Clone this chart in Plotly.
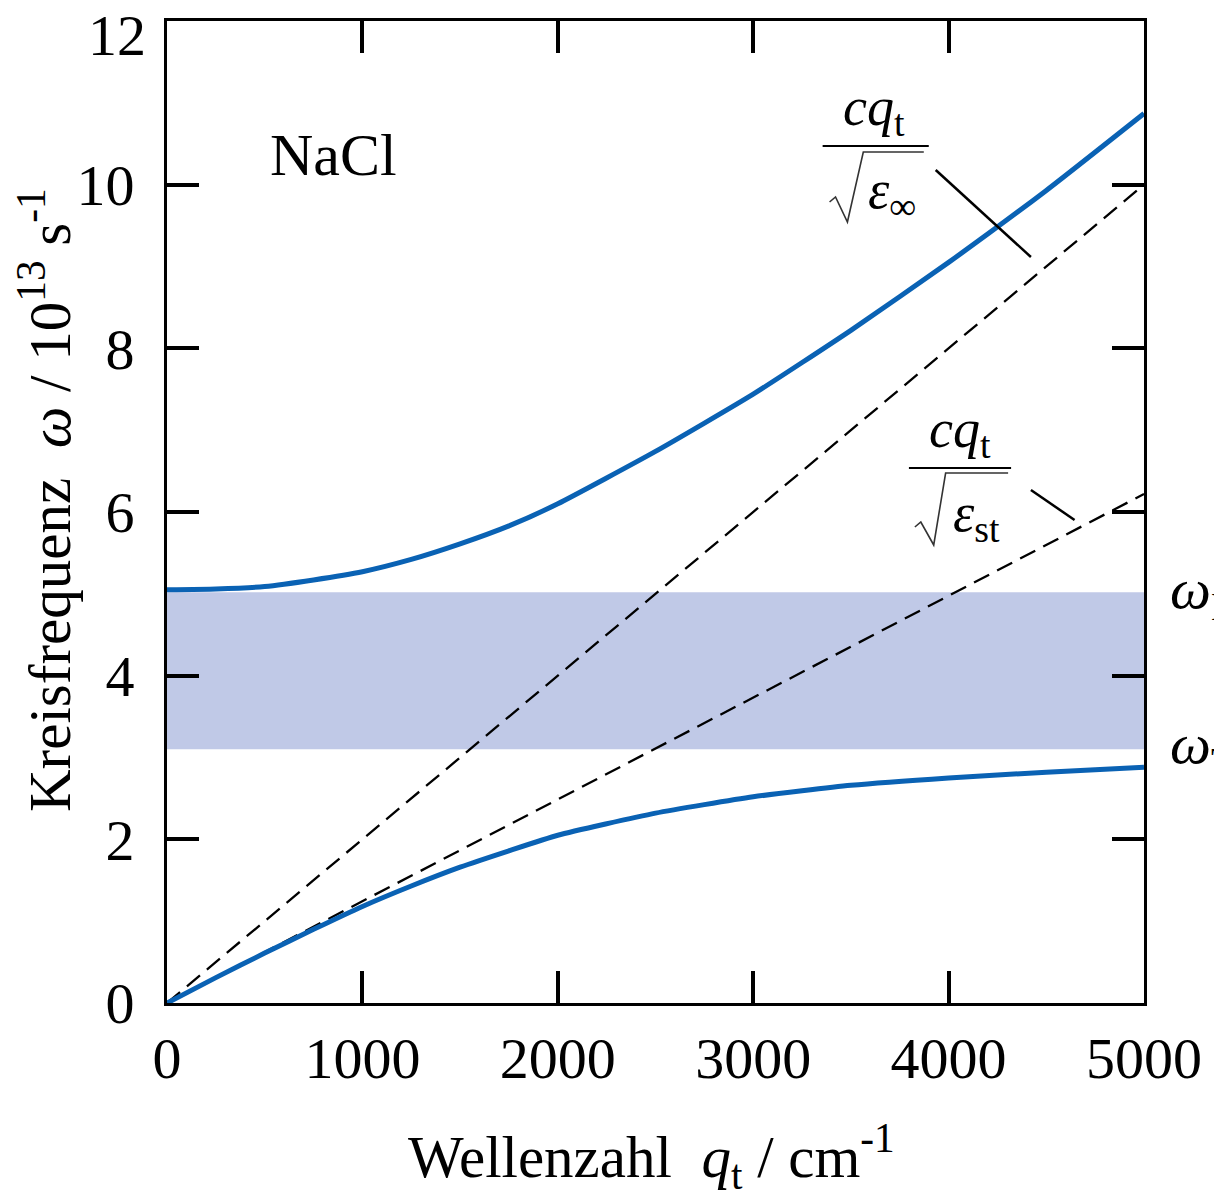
import plotly.graph_objects as go

# ---------------- data ----------------
q_vals = [0, 250, 500, 750, 1000, 1250, 1500, 1750, 2000, 2500, 3000, 3500, 4000, 4500, 5000]
omega_upper = [5.05, 5.06, 5.09, 5.17, 5.27, 5.42, 5.61, 5.83, 6.10, 6.74, 7.44, 8.22, 9.05, 9.93, 10.87]
omega_lower = [0.0, 0.31, 0.61, 0.90, 1.18, 1.43, 1.66, 1.86, 2.05, 2.32, 2.52, 2.66, 2.75, 2.82, 2.88]

q_line = [0, 5000]
light_inf = [0, 10.0]   # c q / sqrt(eps_inf)
light_st = [0, 6.22]    # c q / sqrt(eps_st)

omega_T = 3.1
omega_L = 5.02

x_ticks = [0, 1000, 2000, 3000, 4000, 5000]
y_ticks = [0, 2, 4, 6, 8, 10, 12]
y_ticktext = ["0", "2", "4", "6", "8", "10", ""]  # "12" drawn as annotation

# ---------------- layout geometry ----------------
W, H = 1214, 1192
L, R, T, B = 167, 62, 21, 189
PW, PH = W - L - R, H - T - B


def px(x, y):
    return (x - L) / PW, (H - B - y) / PH


FONT = "Liberation Serif, Times New Roman, serif"
BLUE = "#0a62b4"

fig = go.Figure()

fig.add_trace(go.Scatter(x=q_line, y=light_inf, mode="lines",
                         line=dict(color="black", width=2.3, dash="17px,9px"),
                         hoverinfo="skip", showlegend=False))
fig.add_trace(go.Scatter(x=q_line, y=light_st, mode="lines",
                         line=dict(color="black", width=2.3, dash="17px,9px"),
                         hoverinfo="skip", showlegend=False))
fig.add_trace(go.Scatter(x=q_vals, y=omega_upper, mode="lines",
                         line=dict(color=BLUE, width=5, shape="spline", smoothing=0.5),
                         showlegend=False))
fig.add_trace(go.Scatter(x=q_vals, y=omega_lower, mode="lines",
                         line=dict(color=BLUE, width=5, shape="spline", smoothing=0.5),
                         showlegend=False))

shapes = []
# reststrahl band
shapes.append(dict(type="rect", xref="x", yref="y", x0=q_vals[0], x1=q_vals[-1],
                   y0=omega_T, y1=omega_L, fillcolor="#c0c9e7", line=dict(width=0),
                   layer="below"))


def line_px(x0, y0, x1, y1, w=2.5):
    a = px(x0, y0)
    b = px(x1, y1)
    shapes.append(dict(type="line", xref="paper", yref="paper",
                       x0=a[0], y0=a[1], x1=b[0], y1=b[1],
                       line=dict(color="black", width=w)))


def path_px(pts, w=1.5, color="#333"):
    s = ""
    for i, (x, y) in enumerate(pts):
        a = px(x, y)
        s += ("M" if i == 0 else "L") + f"{a[0]:.5f},{a[1]:.5f} "
    shapes.append(dict(type="path", xref="paper", yref="paper", path=s,
                       line=dict(color=color, width=w)))


# leader lines
line_px(942, 170, 1038, 257, 2.5)
line_px(1038, 490, 1082, 520, 2.5)

# fraction bars
line_px(828, 146, 935, 146, 2.2)
line_px(915, 468, 1018, 468, 2.2)

# sqrt signs
path_px([(835, 202), (841, 197), (853, 222), (869, 152), (930, 152)], 1.6)
path_px([(921, 527), (927, 522), (940, 545), (952, 473), (1015, 473)], 1.6)

annotations = []


def ann(x, y, text, size, xanchor="center", yanchor="middle", angle=0):
    a = px(x, y)
    annotations.append(dict(xref="paper", yref="paper", x=a[0], y=a[1], text=text,
                            showarrow=False, xanchor=xanchor, yanchor=yanchor,
                            textangle=angle, font=dict(family=FONT, size=size, color="black")))


ann(335, 155, "NaCl", 60)
ann(880, 110, "<i>cq</i><sub>t</sub>", 54)
ann(898, 194, "<i>ε</i><sub>∞</sub>", 54)
ann(966, 432, "<i>cq</i><sub>t</sub>", 54)
ann(983, 516, "<i>ε</i><sub>st</sub>", 54)
ann(1176, 592, "<i>ω</i><sub>L</sub>", 58, xanchor="left")
ann(1176, 747, "<i>ω</i><sub>T</sub>", 58, xanchor="left")
ann(148, 36, "12", 58, xanchor="right")

# axis titles
ann(655, 1156, "Wellenzahl  <i>q</i><sub>t</sub> / cm<sup>-1</sup>", 59)
ann(44, 500, "Kreisfrequenz  <i>ω</i> / 10<sup>13</sup> s<sup>-1</sup>", 59, angle=-90)

axis_common = dict(
    showgrid=False, zeroline=False, showline=True, linecolor="black", linewidth=3,
    mirror="allticks", ticks="inside", ticklen=32, tickwidth=4, tickcolor="black",
    tickfont=dict(family=FONT, size=58, color="black"),
)

fig.update_layout(
    width=W, height=H,
    margin=dict(l=L, r=R, t=T, b=B, pad=0),
    paper_bgcolor="white", plot_bgcolor="white",
    xaxis=dict(range=[0, 5000], tickvals=x_ticks, ticktext=[str(v) for v in x_ticks],
               ticklabelstandoff=2, **axis_common),
    yaxis=dict(range=[0, 12], tickvals=y_ticks, ticktext=y_ticktext,
               ticklabelstandoff=18, **axis_common),
    shapes=shapes,
    annotations=annotations,
    showlegend=False,
)

fig.write_html(
    "out.html",
    config={"displayModeBar": False},
    post_script="document.body.style.margin='0';document.documentElement.style.overflow='hidden';document.body.style.overflow='hidden';",
)
